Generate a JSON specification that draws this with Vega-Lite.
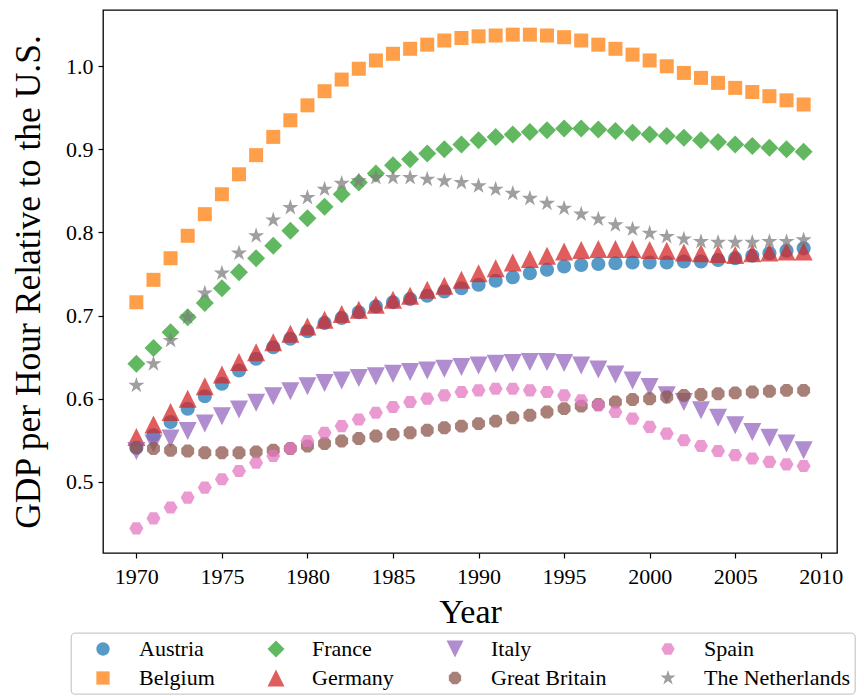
{
  "$schema": "https://vega.github.io/schema/vega-lite/v6.json",
  "width": 734,
  "height": 543,
  "autosize": {"type": "none"},
  "padding": {"left": 103, "top": 10, "right": 27, "bottom": 143},
  "background": "white",
  "data": {
    "values": [
      {"c":"Austria","y":1970,"v":0.541},{"c":"Austria","y":1971,"v":0.556},{"c":"Austria","y":1972,"v":0.572},{"c":"Austria","y":1973,"v":0.588},{"c":"Austria","y":1974,"v":0.603},{"c":"Austria","y":1975,"v":0.618},{"c":"Austria","y":1976,"v":0.634},{"c":"Austria","y":1977,"v":0.648},{"c":"Austria","y":1978,"v":0.662},{"c":"Austria","y":1979,"v":0.672},
      {"c":"Austria","y":1980,"v":0.681},{"c":"Austria","y":1981,"v":0.691},{"c":"Austria","y":1982,"v":0.697},{"c":"Austria","y":1983,"v":0.704},{"c":"Austria","y":1984,"v":0.711},{"c":"Austria","y":1985,"v":0.716},{"c":"Austria","y":1986,"v":0.720},{"c":"Austria","y":1987,"v":0.724},{"c":"Austria","y":1988,"v":0.729},{"c":"Austria","y":1989,"v":0.733},
      {"c":"Austria","y":1990,"v":0.737},{"c":"Austria","y":1991,"v":0.742},{"c":"Austria","y":1992,"v":0.746},{"c":"Austria","y":1993,"v":0.751},{"c":"Austria","y":1994,"v":0.755},{"c":"Austria","y":1995,"v":0.759},{"c":"Austria","y":1996,"v":0.761},{"c":"Austria","y":1997,"v":0.762},{"c":"Austria","y":1998,"v":0.763},{"c":"Austria","y":1999,"v":0.764},
      {"c":"Austria","y":2000,"v":0.764},{"c":"Austria","y":2001,"v":0.764},{"c":"Austria","y":2002,"v":0.765},{"c":"Austria","y":2003,"v":0.765},{"c":"Austria","y":2004,"v":0.767},{"c":"Austria","y":2005,"v":0.769},{"c":"Austria","y":2006,"v":0.772},{"c":"Austria","y":2007,"v":0.775},{"c":"Austria","y":2008,"v":0.778},{"c":"Austria","y":2009,"v":0.781},

      {"c":"Belgium","y":1970,"v":0.716},{"c":"Belgium","y":1971,"v":0.743},{"c":"Belgium","y":1972,"v":0.769},{"c":"Belgium","y":1973,"v":0.796},{"c":"Belgium","y":1974,"v":0.822},{"c":"Belgium","y":1975,"v":0.846},{"c":"Belgium","y":1976,"v":0.870},{"c":"Belgium","y":1977,"v":0.893},{"c":"Belgium","y":1978,"v":0.915},{"c":"Belgium","y":1979,"v":0.935},
      {"c":"Belgium","y":1980,"v":0.953},{"c":"Belgium","y":1981,"v":0.970},{"c":"Belgium","y":1982,"v":0.984},{"c":"Belgium","y":1983,"v":0.997},{"c":"Belgium","y":1984,"v":1.007},{"c":"Belgium","y":1985,"v":1.015},{"c":"Belgium","y":1986,"v":1.021},{"c":"Belgium","y":1987,"v":1.026},{"c":"Belgium","y":1988,"v":1.031},{"c":"Belgium","y":1989,"v":1.034},
      {"c":"Belgium","y":1990,"v":1.036},{"c":"Belgium","y":1991,"v":1.037},{"c":"Belgium","y":1992,"v":1.038},{"c":"Belgium","y":1993,"v":1.038},{"c":"Belgium","y":1994,"v":1.037},{"c":"Belgium","y":1995,"v":1.035},{"c":"Belgium","y":1996,"v":1.031},{"c":"Belgium","y":1997,"v":1.026},{"c":"Belgium","y":1998,"v":1.021},{"c":"Belgium","y":1999,"v":1.014},
      {"c":"Belgium","y":2000,"v":1.007},{"c":"Belgium","y":2001,"v":1.000},{"c":"Belgium","y":2002,"v":0.992},{"c":"Belgium","y":2003,"v":0.986},{"c":"Belgium","y":2004,"v":0.980},{"c":"Belgium","y":2005,"v":0.974},{"c":"Belgium","y":2006,"v":0.969},{"c":"Belgium","y":2007,"v":0.964},{"c":"Belgium","y":2008,"v":0.959},{"c":"Belgium","y":2009,"v":0.954},

      {"c":"France","y":1970,"v":0.642},{"c":"France","y":1971,"v":0.661},{"c":"France","y":1972,"v":0.680},{"c":"France","y":1973,"v":0.698},{"c":"France","y":1974,"v":0.715},{"c":"France","y":1975,"v":0.733},{"c":"France","y":1976,"v":0.752},{"c":"France","y":1977,"v":0.769},{"c":"France","y":1978,"v":0.784},{"c":"France","y":1979,"v":0.802},
      {"c":"France","y":1980,"v":0.817},{"c":"France","y":1981,"v":0.831},{"c":"France","y":1982,"v":0.846},{"c":"France","y":1983,"v":0.860},{"c":"France","y":1984,"v":0.871},{"c":"France","y":1985,"v":0.881},{"c":"France","y":1986,"v":0.888},{"c":"France","y":1987,"v":0.895},{"c":"France","y":1988,"v":0.900},{"c":"France","y":1989,"v":0.906},
      {"c":"France","y":1990,"v":0.911},{"c":"France","y":1991,"v":0.915},{"c":"France","y":1992,"v":0.918},{"c":"France","y":1993,"v":0.921},{"c":"France","y":1994,"v":0.923},{"c":"France","y":1995,"v":0.925},{"c":"France","y":1996,"v":0.925},{"c":"France","y":1997,"v":0.924},{"c":"France","y":1998,"v":0.922},{"c":"France","y":1999,"v":0.920},
      {"c":"France","y":2000,"v":0.918},{"c":"France","y":2001,"v":0.916},{"c":"France","y":2002,"v":0.914},{"c":"France","y":2003,"v":0.911},{"c":"France","y":2004,"v":0.909},{"c":"France","y":2005,"v":0.906},{"c":"France","y":2006,"v":0.904},{"c":"France","y":2007,"v":0.902},{"c":"France","y":2008,"v":0.900},{"c":"France","y":2009,"v":0.897},

      {"c":"Germany","y":1970,"v":0.554},{"c":"Germany","y":1971,"v":0.569},{"c":"Germany","y":1972,"v":0.584},{"c":"Germany","y":1973,"v":0.600},{"c":"Germany","y":1974,"v":0.615},{"c":"Germany","y":1975,"v":0.629},{"c":"Germany","y":1976,"v":0.644},{"c":"Germany","y":1977,"v":0.656},{"c":"Germany","y":1978,"v":0.668},{"c":"Germany","y":1979,"v":0.678},
      {"c":"Germany","y":1980,"v":0.687},{"c":"Germany","y":1981,"v":0.695},{"c":"Germany","y":1982,"v":0.702},{"c":"Germany","y":1983,"v":0.707},{"c":"Germany","y":1984,"v":0.713},{"c":"Germany","y":1985,"v":0.719},{"c":"Germany","y":1986,"v":0.724},{"c":"Germany","y":1987,"v":0.731},{"c":"Germany","y":1988,"v":0.736},{"c":"Germany","y":1989,"v":0.743},
      {"c":"Germany","y":1990,"v":0.751},{"c":"Germany","y":1991,"v":0.757},{"c":"Germany","y":1992,"v":0.764},{"c":"Germany","y":1993,"v":0.768},{"c":"Germany","y":1994,"v":0.772},{"c":"Germany","y":1995,"v":0.777},{"c":"Germany","y":1996,"v":0.779},{"c":"Germany","y":1997,"v":0.780},{"c":"Germany","y":1998,"v":0.780},{"c":"Germany","y":1999,"v":0.780},
      {"c":"Germany","y":2000,"v":0.779},{"c":"Germany","y":2001,"v":0.778},{"c":"Germany","y":2002,"v":0.776},{"c":"Germany","y":2003,"v":0.775},{"c":"Germany","y":2004,"v":0.774},{"c":"Germany","y":2005,"v":0.773},{"c":"Germany","y":2006,"v":0.775},{"c":"Germany","y":2007,"v":0.776},{"c":"Germany","y":2008,"v":0.777},{"c":"Germany","y":2009,"v":0.777},

      {"c":"Italy","y":1970,"v":0.537},{"c":"Italy","y":1971,"v":0.546},{"c":"Italy","y":1972,"v":0.552},{"c":"Italy","y":1973,"v":0.561},{"c":"Italy","y":1974,"v":0.570},{"c":"Italy","y":1975,"v":0.579},{"c":"Italy","y":1976,"v":0.587},{"c":"Italy","y":1977,"v":0.595},{"c":"Italy","y":1978,"v":0.603},{"c":"Italy","y":1979,"v":0.609},
      {"c":"Italy","y":1980,"v":0.615},{"c":"Italy","y":1981,"v":0.619},{"c":"Italy","y":1982,"v":0.622},{"c":"Italy","y":1983,"v":0.625},{"c":"Italy","y":1984,"v":0.627},{"c":"Italy","y":1985,"v":0.630},{"c":"Italy","y":1986,"v":0.632},{"c":"Italy","y":1987,"v":0.634},{"c":"Italy","y":1988,"v":0.636},{"c":"Italy","y":1989,"v":0.638},
      {"c":"Italy","y":1990,"v":0.640},{"c":"Italy","y":1991,"v":0.642},{"c":"Italy","y":1992,"v":0.643},{"c":"Italy","y":1993,"v":0.644},{"c":"Italy","y":1994,"v":0.644},{"c":"Italy","y":1995,"v":0.643},{"c":"Italy","y":1996,"v":0.640},{"c":"Italy","y":1997,"v":0.635},{"c":"Italy","y":1998,"v":0.629},{"c":"Italy","y":1999,"v":0.622},
      {"c":"Italy","y":2000,"v":0.614},{"c":"Italy","y":2001,"v":0.604},{"c":"Italy","y":2002,"v":0.596},{"c":"Italy","y":2003,"v":0.586},{"c":"Italy","y":2004,"v":0.577},{"c":"Italy","y":2005,"v":0.568},{"c":"Italy","y":2006,"v":0.560},{"c":"Italy","y":2007,"v":0.553},{"c":"Italy","y":2008,"v":0.546},{"c":"Italy","y":2009,"v":0.538},

      {"c":"Great Britain","y":1970,"v":0.541},{"c":"Great Britain","y":1971,"v":0.540},{"c":"Great Britain","y":1972,"v":0.538},{"c":"Great Britain","y":1973,"v":0.537},{"c":"Great Britain","y":1974,"v":0.535},{"c":"Great Britain","y":1975,"v":0.535},{"c":"Great Britain","y":1976,"v":0.535},{"c":"Great Britain","y":1977,"v":0.536},{"c":"Great Britain","y":1978,"v":0.538},{"c":"Great Britain","y":1979,"v":0.540},
      {"c":"Great Britain","y":1980,"v":0.543},{"c":"Great Britain","y":1981,"v":0.546},{"c":"Great Britain","y":1982,"v":0.549},{"c":"Great Britain","y":1983,"v":0.552},{"c":"Great Britain","y":1984,"v":0.555},{"c":"Great Britain","y":1985,"v":0.557},{"c":"Great Britain","y":1986,"v":0.559},{"c":"Great Britain","y":1987,"v":0.562},{"c":"Great Britain","y":1988,"v":0.565},{"c":"Great Britain","y":1989,"v":0.567},
      {"c":"Great Britain","y":1990,"v":0.570},{"c":"Great Britain","y":1991,"v":0.573},{"c":"Great Britain","y":1992,"v":0.577},{"c":"Great Britain","y":1993,"v":0.580},{"c":"Great Britain","y":1994,"v":0.584},{"c":"Great Britain","y":1995,"v":0.588},{"c":"Great Britain","y":1996,"v":0.591},{"c":"Great Britain","y":1997,"v":0.593},{"c":"Great Britain","y":1998,"v":0.596},{"c":"Great Britain","y":1999,"v":0.599},
      {"c":"Great Britain","y":2000,"v":0.600},{"c":"Great Britain","y":2001,"v":0.602},{"c":"Great Britain","y":2002,"v":0.604},{"c":"Great Britain","y":2003,"v":0.605},{"c":"Great Britain","y":2004,"v":0.606},{"c":"Great Britain","y":2005,"v":0.607},{"c":"Great Britain","y":2006,"v":0.608},{"c":"Great Britain","y":2007,"v":0.609},{"c":"Great Britain","y":2008,"v":0.610},{"c":"Great Britain","y":2009,"v":0.610},

      {"c":"Spain","y":1970,"v":0.444},{"c":"Spain","y":1971,"v":0.456},{"c":"Spain","y":1972,"v":0.469},{"c":"Spain","y":1973,"v":0.481},{"c":"Spain","y":1974,"v":0.493},{"c":"Spain","y":1975,"v":0.503},{"c":"Spain","y":1976,"v":0.513},{"c":"Spain","y":1977,"v":0.523},{"c":"Spain","y":1978,"v":0.531},{"c":"Spain","y":1979,"v":0.540},
      {"c":"Spain","y":1980,"v":0.549},{"c":"Spain","y":1981,"v":0.559},{"c":"Spain","y":1982,"v":0.567},{"c":"Spain","y":1983,"v":0.575},{"c":"Spain","y":1984,"v":0.583},{"c":"Spain","y":1985,"v":0.590},{"c":"Spain","y":1986,"v":0.596},{"c":"Spain","y":1987,"v":0.600},{"c":"Spain","y":1988,"v":0.604},{"c":"Spain","y":1989,"v":0.608},
      {"c":"Spain","y":1990,"v":0.610},{"c":"Spain","y":1991,"v":0.612},{"c":"Spain","y":1992,"v":0.612},{"c":"Spain","y":1993,"v":0.610},{"c":"Spain","y":1994,"v":0.608},{"c":"Spain","y":1995,"v":0.604},{"c":"Spain","y":1996,"v":0.598},{"c":"Spain","y":1997,"v":0.592},{"c":"Spain","y":1998,"v":0.584},{"c":"Spain","y":1999,"v":0.576},
      {"c":"Spain","y":2000,"v":0.566},{"c":"Spain","y":2001,"v":0.558},{"c":"Spain","y":2002,"v":0.550},{"c":"Spain","y":2003,"v":0.543},{"c":"Spain","y":2004,"v":0.537},{"c":"Spain","y":2005,"v":0.532},{"c":"Spain","y":2006,"v":0.528},{"c":"Spain","y":2007,"v":0.524},{"c":"Spain","y":2008,"v":0.521},{"c":"Spain","y":2009,"v":0.519},

      {"c":"The Netherlands","y":1970,"v":0.616},{"c":"The Netherlands","y":1971,"v":0.642},{"c":"The Netherlands","y":1972,"v":0.670},{"c":"The Netherlands","y":1973,"v":0.698},{"c":"The Netherlands","y":1974,"v":0.727},{"c":"The Netherlands","y":1975,"v":0.751},{"c":"The Netherlands","y":1976,"v":0.775},{"c":"The Netherlands","y":1977,"v":0.796},{"c":"The Netherlands","y":1978,"v":0.815},{"c":"The Netherlands","y":1979,"v":0.830},
      {"c":"The Netherlands","y":1980,"v":0.842},{"c":"The Netherlands","y":1981,"v":0.852},{"c":"The Netherlands","y":1982,"v":0.859},{"c":"The Netherlands","y":1983,"v":0.862},{"c":"The Netherlands","y":1984,"v":0.866},{"c":"The Netherlands","y":1985,"v":0.866},{"c":"The Netherlands","y":1986,"v":0.866},{"c":"The Netherlands","y":1987,"v":0.864},{"c":"The Netherlands","y":1988,"v":0.862},{"c":"The Netherlands","y":1989,"v":0.860},
      {"c":"The Netherlands","y":1990,"v":0.856},{"c":"The Netherlands","y":1991,"v":0.852},{"c":"The Netherlands","y":1992,"v":0.847},{"c":"The Netherlands","y":1993,"v":0.841},{"c":"The Netherlands","y":1994,"v":0.835},{"c":"The Netherlands","y":1995,"v":0.829},{"c":"The Netherlands","y":1996,"v":0.822},{"c":"The Netherlands","y":1997,"v":0.816},{"c":"The Netherlands","y":1998,"v":0.809},{"c":"The Netherlands","y":1999,"v":0.804},
      {"c":"The Netherlands","y":2000,"v":0.799},{"c":"The Netherlands","y":2001,"v":0.795},{"c":"The Netherlands","y":2002,"v":0.792},{"c":"The Netherlands","y":2003,"v":0.789},{"c":"The Netherlands","y":2004,"v":0.788},{"c":"The Netherlands","y":2005,"v":0.788},{"c":"The Netherlands","y":2006,"v":0.788},{"c":"The Netherlands","y":2007,"v":0.789},{"c":"The Netherlands","y":2008,"v":0.789},{"c":"The Netherlands","y":2009,"v":0.791}
    ]
  },
  "mark": {"type": "point", "filled": true, "size": 256, "opacity": 0.75, "strokeWidth": 0},
  "encoding": {
    "x": {
      "field": "y", "type": "quantitative",
      "scale": {"domain": [1968.05, 2010.95], "nice": false, "zero": false},
      "axis": {"values": [1970, 1975, 1980, 1985, 1990, 1995, 2000, 2005, 2010], "format": "d", "title": "Year", "titleX": 367, "titleY": 69, "titleBaseline": "alphabetic", "titleAlign": "center", "titleFontSize": 34, "labelPadding": 8}
    },
    "y": {
      "field": "v", "type": "quantitative",
      "scale": {"domain": [0.4143, 1.0677], "nice": false, "zero": false},
      "axis": {"values": [0.5, 0.6, 0.7, 0.8, 0.9, 1.0], "format": ".1f", "title": "GDP per Hour Relative to the U.S.", "titleX": -75, "titleY": 271.5, "titleBaseline": "middle", "titleAlign": "center", "titleFontSize": 35.5, "labelPadding": 5}
    },
    "color": {
      "field": "c", "type": "nominal", "title": null,
      "scale": {
        "domain": ["Austria", "France", "Italy", "Spain", "Belgium", "Germany", "Great Britain", "The Netherlands"],
        "range": ["#1f77b4", "#2ca02c", "#9467bd", "#e377c2", "#ff7f0e", "#d62728", "#8c564b", "#7f7f7f"]
      }
    },
    "shape": {
      "field": "c", "type": "nominal", "title": null,
      "scale": {
        "domain": ["Austria", "France", "Italy", "Spain", "Belgium", "Germany", "Great Britain", "The Netherlands"],
        "range": [
          "M0.875,0A0.875,0.875,0,1,1,-0.875,0A0.875,0.875,0,1,1,0.875,0Z",
          "M0,-1.125L1.125,0L0,1.125L-1.125,0Z",
          "M0,1.125L-1.125,-1.125L1.125,-1.125Z",
          "M0.875,0L0.4375,0.758L-0.4375,0.758L-0.875,0L-0.4375,-0.758L0.4375,-0.758Z",
          "M-0.875,-0.875L0.875,-0.875L0.875,0.875L-0.875,0.875Z",
          "M0,-1.125L-1.125,1.125L1.125,1.125Z",
          "M0.335,-0.808L0.808,-0.335L0.808,0.335L0.335,0.808L-0.335,0.808L-0.808,0.335L-0.808,-0.335L-0.335,-0.808Z",
          "M0,-1.06L0.238,-0.328L1.008,-0.328L0.385,0.125L0.623,0.858L0,0.405L-0.623,0.858L-0.385,0.125L-1.008,-0.328L-0.238,-0.328Z"
        ]
      }
    }
  },
  "config": {
    "font": "Liberation Serif",
    "view": {"stroke": "black", "strokeWidth": 1.3},
    "axis": {
      "labelFont": "Liberation Serif", "titleFont": "Liberation Serif",
      "labelFontSize": 22, "titleFontWeight": "normal",
      "labelColor": "black", "titleColor": "black",
      "tickColor": "black", "tickSize": 5, "tickWidth": 1.2,
      "domain": false, "grid": false
    },
    "legend": {
      "orient": "none", "legendX": -32, "legendY": 623,
      "direction": "horizontal", "columns": 4,
      "padding": 5, "strokeColor": "#cccccc", "fillColor": "white", "cornerRadius": 4, "strokeWidth": 1.3,
      "labelFont": "Liberation Serif", "labelFontSize": 22, "labelColor": "black",
      "symbolSize": 230, "symbolOpacity": 0.75, "symbolStrokeWidth": 0,
      "symbolOffset": 16, "labelOffset": 25, "columnPadding": 34, "rowPadding": 7,
      "labelLimit": 300
    }
  }
}
